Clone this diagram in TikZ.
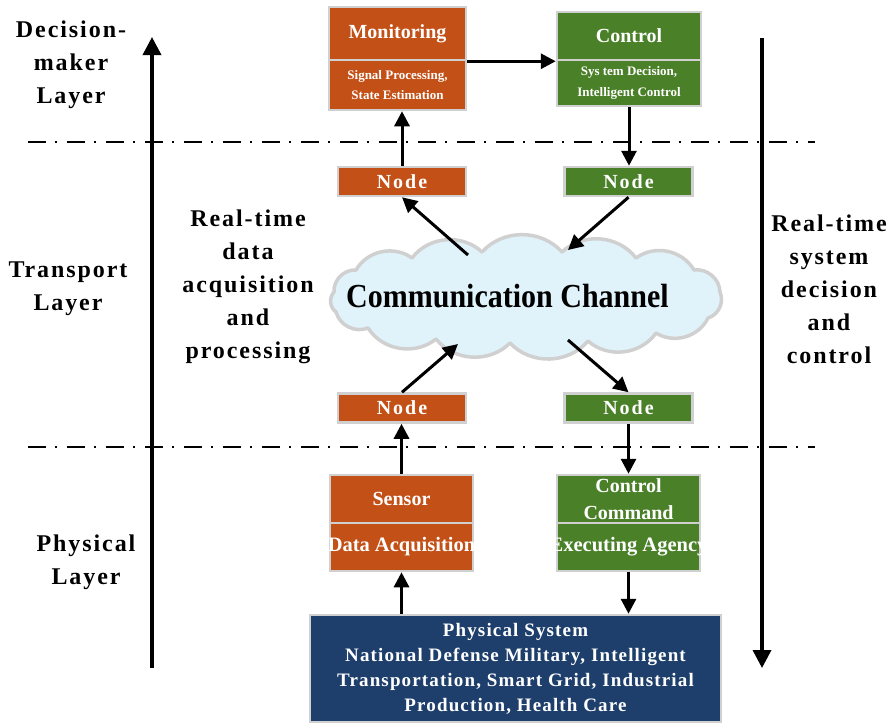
\documentclass[tikz,border=0pt]{standalone}
\usepackage{fontspec}
\setmainfont{Liberation Serif}
\newfontfamily\spaced[LetterSpace=8]{Liberation Serif}
\newfontfamily\spacedb[LetterSpace=6]{Liberation Serif}
\newfontfamily\spacedn[LetterSpace=10]{Liberation Serif}
\usetikzlibrary{arrows.meta}
\definecolor{orng}{RGB}{195,80,22}
\definecolor{grn}{RGB}{74,128,40}
\definecolor{navy}{RGB}{30,63,108}
\definecolor{bordergray}{RGB}{208,208,208}
\definecolor{cloudfill}{RGB}{224,242,250}
\tikzset{
  box/.style={draw=bordergray, line width=2.5pt, text=white, align=center, inner sep=0pt},
  obox/.style={box, fill=orng},
  gbox/.style={box, fill=grn},
  title/.style={font=\fontsize{20}{27}\selectfont\bfseries},
  sub/.style={font=\fontsize{13}{20.5}\selectfont\bfseries},
  wide/.style={font=\fontsize{20.5}{24}\selectfont\bfseries},
  nodebox/.style={box, minimum width=128, minimum height=29, font=\spacedn\fontsize{20}{22}\selectfont\bfseries},
  arr/.style={line width=3pt, -{Triangle[length=15pt,width=15pt]}},
  bigarr/.style={line width=3.5pt, -{Triangle[length=18pt,width=18pt]}},
  layer/.style={font=\spaced\fontsize{24}{33}\selectfont\bfseries, align=center, inner sep=0pt},
  divline/.style={line width=2pt, dash pattern=on 18pt off 9pt on 2pt off 10pt},
  puff/.style={bend left=48}
}
\begin{document}
\begin{tikzpicture}[x=1pt,y=-1pt]
\useasboundingbox (0,0) rectangle (896,724);

% dash-dot layer lines
\coordinate (d1a) at (28,142); \coordinate (d1b) at (815,142);
\coordinate (d2a) at (28,447); \coordinate (d2b) at (815,447);
\draw[divline] (d1a) -- (d1b);
\draw[divline] (d2a) -- (d2b);

% big side arrows
\coordinate (la0) at (152,668); \coordinate (la1) at (152,37);
\coordinate (ra0) at (762,38); \coordinate (ra1) at (762,668);
\draw[bigarr] (la0) -- (la1);
\draw[bigarr] (ra0) -- (ra1);

% layer labels
\node[layer] (l1) at (71,65) {Decision-\\maker\\Layer};
\node[layer] (l2) at (68,289) {Transport\\Layer};
\node[layer] (l3) at (86,562) {Physical\\Layer};
\node[layer] (l4) at (248,287) {Real-time\\data\\acquisition\\and\\processing};
\node[layer] (l5) at (829,289) {Real-time\\system\\decision\\and\\control};

% decision layer boxes
\node[obox, title, minimum width=137, minimum height=53] (mon) at (397.5,33.5) {Monitoring};
\node[obox, sub, minimum width=137, minimum height=50] (monb) at (397.5,85) {Signal Processing,\\State Estimation};
\node[gbox, title, minimum width=144, minimum height=48] (ctl) at (629,36) {Control};
\node[gbox, sub, minimum width=144, minimum height=46] (ctlb) at (629,83) {Sys tem Decision,\\Intelligent Control};

% transport nodes
\node[nodebox, fill=orng] (n1) at (402,181.5) {Node};
\node[nodebox, fill=grn] (n2) at (628.5,181.5) {Node};
\node[nodebox, fill=orng] (n3) at (402,408) {Node};
\node[nodebox, fill=grn] (n4) at (628.5,408) {Node};

% cloud
\draw[draw=bordergray, line width=3.5pt, fill=cloudfill, line join=round]
  (334,292) to[puff] (356,270) to[puff] (412,258) to[puff] (482,252) to[puff] (562,252)
  to[puff] (636,258) to[puff] (694,270) to[puff] (720,292) to[puff] (708,318)
  to[puff] (656,333) to[puff] (588,341) to[puff] (510,343) to[puff] (436,339)
  to[puff] (368,328) to[puff] (336,312) to[puff] cycle;
\node[anchor=base, font=\fontsize{30}{34}\selectfont\bfseries, inner sep=0pt] (clt) at (507.5,307) {\scalebox{1}[1.12]{Communication Channel}};
\coordinate (c1) at (468,255);
\coordinate (c2) at (568,250);
\coordinate (c3) at (458,344);
\coordinate (c4) at (568,340);

% physical layer boxes
\node[obox, title, minimum width=143, minimum height=48] (sen) at (401.5,499) {Sensor};
\node[obox, wide, minimum width=143, minimum height=48] (senb) at (401.5,547) {\makebox[0pt]{Data Acquisition}};
\node[gbox, title, minimum width=143, minimum height=48] (cc) at (628.5,499) {Control\\Command};
\node[gbox, wide, minimum width=143, minimum height=48] (ccb) at (628.5,547) {\makebox[0pt]{Executing Agency}};

\node[box, fill=navy, draw=bordergray, minimum width=411, minimum height=107,
      font=\spacedb\fontsize{19}{25}\selectfont\bfseries] (phys) at (515.5,668.5)
      {Physical System\\National Defense Military, Intelligent\\Transportation, Smart Grid, Industrial\\Production, Health Care};

% connectors
\draw[arr] (mon.south east) -- (ctl.south west);
\draw[arr] (n1.north) -- (n1.north |- monb.south);
\draw[arr] (ctlb.south) -- (ctlb.south |- n2.north);
\draw[arr] (c1) -- (n1.south);
\draw[arr] (n2.south) -- (c2);
\draw[arr] (n3.north) -- (c3);
\draw[arr] (c4) -- (n4.north);
\draw[arr] (sen.north) -- (sen.north |- n3.south);
\draw[arr] (n4.south) -- (n4.south |- cc.north);
\draw[arr] (senb.south |- phys.north) -- (senb.south);
\draw[arr] (ccb.south) -- (ccb.south |- phys.north);
\end{tikzpicture}
\end{document}
